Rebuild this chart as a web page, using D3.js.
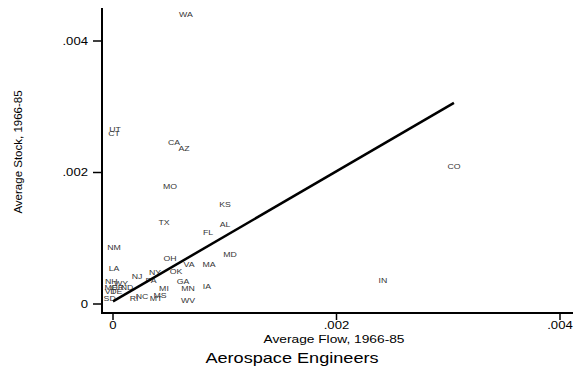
<!DOCTYPE html>
<meta charset="utf-8">
<style>
body { margin: 0; background: #fff; }
svg { display: block; font-family: "Liberation Sans", Arial, sans-serif; }
</style>
<script src="https://d3js.org/d3.v7.min.js"></script>
<svg width="584" height="373"></svg>
<script>
// values (average flow / average stock, 1966-85)
var states = ["WA","UT","CT","CA","AZ","MO","KS","TX","AL","FL","CO","NM","MD","OH","VA","MA","LA",
              "NY","OK","NJ","IN","PA","GA","IA","MN","MI","NC","MS","MT","RI","WV","NH","WY",
              "ME","OR","ND","VT","DE","SD"];
var flow  = [0.000653,0.000018,0.000009,0.000546,0.000635,0.000510,0.001002,0.000456,0.001002,0.000850,0.003051,0.000009,0.001047,0.000510,0.000680,0.000859,0.000009,
             0.000376,0.000564,0.000215,0.002416,0.000340,0.000626,0.000841,0.000671,0.000456,0.000260,0.000420,0.000385,0.000188,0.000671,-0.000015,0.000072,
             -0.000018,0.000040,0.000125,-0.000025,0.000030,-0.000030];
var stock = [0.004395,0.002646,0.002586,0.002449,0.002357,0.001780,0.001506,0.001232,0.001202,0.001080,0.002084,0.000852,0.000745,0.000684,0.000593,0.000593,0.000532,
             0.000471,0.000487,0.000411,0.000350,0.000350,0.000335,0.000259,0.000228,0.000228,0.000106,0.000122,0.000076,0.000076,0.000046,0.000335,0.000304,
             0.000244,0.000244,0.000244,0.000182,0.000182,0.000076];
// fitted line, ends
var fitFlow  = [0, 0.003051];
var fitStock = [0.00004, 0.00306];
var xTicks = [0, 0.002, 0.004], xTickLabels = ["0", ".002", ".004"];
var yTicks = [0, 0.002, 0.004], yTickLabels = ["0", ".002", ".004"];

var svg = d3.select("svg");
var sx = 1.25; // picture is stretched sideways

var x = d3.scaleLinear().domain([0, 0.004]).range([113, 560]);
var y = d3.scaleLinear().domain([0, 0.004]).range([304, 41]);

// axis lines
svg.append("line").attr("x1", 102).attr("x2", 102).attr("y1", 8).attr("y2", 314)
   .attr("stroke", "#000").attr("stroke-width", 2);
svg.append("line").attr("x1", 101).attr("x2", 573).attr("y1", 313).attr("y2", 313)
   .attr("stroke", "#000").attr("stroke-width", 2);

// y ticks
yTicks.forEach(function(t, i) {
  svg.append("line").attr("x1", 93).attr("x2", 102).attr("y1", y(t)).attr("y2", y(t))
     .attr("stroke", "#000").attr("stroke-width", 1.5);
  svg.append("text").attr("transform", "translate(88," + y(t) + ") scale(" + sx + ",1)")
     .attr("text-anchor", "end").attr("dy", "0.35em").attr("font-size", 10.5)
     .text(yTickLabels[i]);
});
// x ticks
xTicks.forEach(function(t, i) {
  svg.append("line").attr("x1", x(t)).attr("x2", x(t)).attr("y1", 313).attr("y2", 320)
     .attr("stroke", "#000").attr("stroke-width", 1.5);
  svg.append("text").attr("transform", "translate(" + x(t) + ",329) scale(" + sx + ",1)")
     .attr("text-anchor", "middle").attr("font-size", 10.5)
     .text(xTickLabels[i]);
});

// titles
svg.append("text").attr("transform", "translate(22,152) rotate(-90)")
   .attr("text-anchor", "middle").attr("font-size", 11.5).text("Average Stock, 1966-85");
svg.append("text").attr("transform", "translate(334,343) scale(" + sx + ",1)")
   .attr("text-anchor", "middle").attr("font-size", 11).text("Average Flow, 1966-85");
svg.append("text").attr("transform", "translate(292,363) scale(" + sx + ",1)")
   .attr("text-anchor", "middle").attr("font-size", 14.5).text("Aerospace Engineers");

// state labels
svg.selectAll("text.st").data(states).enter().append("text").attr("class", "st")
   .attr("transform", function(d, i) { return "translate(" + x(flow[i]) + "," + y(stock[i]) + ") scale(" + sx + ",1)"; })
   .attr("text-anchor", "middle").attr("dy", "0.35em")
   .attr("font-size", 7).attr("fill", "#333")
   .text(function(d) { return d; });

// fitted line
var line = d3.line().x(function(d) { return x(d[0]); }).y(function(d) { return y(d[1]); });
svg.append("path").datum(d3.zip(fitFlow, fitStock)).attr("d", line)
   .attr("fill", "none").attr("stroke", "#000").attr("stroke-width", 2.5);
</script>
